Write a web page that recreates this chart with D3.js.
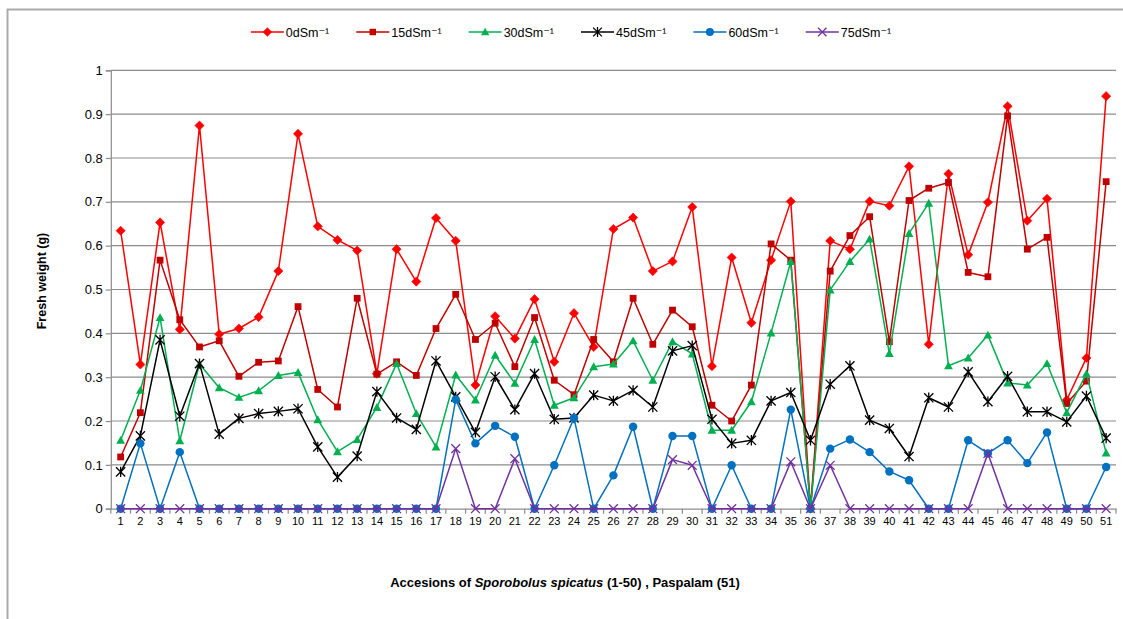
<!DOCTYPE html>
<html><head><meta charset="utf-8">
<script src="https://cdn.jsdelivr.net/npm/d3@7"></script>
<style>
body{margin:0;background:#fff}
svg{display:block}
text{font-family:"Liberation Sans","DejaVu Sans",sans-serif;fill:#000}
</style>
</head><body>
<svg id="chart" width="1123" height="619"></svg>
<script>
const categories = ["1","2","3","4","5","6","7","8","9","10","11","12","13","14","15","16","17","18","19","20","21","22","23","24","25","26","27","28","29","30","31","32","33","34","35","36","37","38","39","40","41","42","43","44","45","46","47","48","49","50","51"];
const seriesNames = ["0dSm⁻¹","15dSm⁻¹","30dSm⁻¹","45dSm⁻¹","60dSm⁻¹","75dSm⁻¹"];
const s0 = [0.634,0.329,0.653,0.409,0.874,0.398,0.411,0.437,0.542,0.855,0.644,0.613,0.589,0.308,0.592,0.518,0.663,0.611,0.282,0.439,0.388,0.478,0.335,0.446,0.369,0.638,0.664,0.542,0.564,0.688,0.325,0.573,0.424,0.567,0.701,0,0.611,0.592,0.701,0.691,0.781,0.375,0.764,0.579,0.699,0.918,0.657,0.707,0.248,0.344,0.941];
const s15 = [0.118,0.219,0.567,0.431,0.369,0.383,0.302,0.334,0.337,0.461,0.272,0.232,0.480,0.307,0.335,0.304,0.411,0.489,0.386,0.423,0.324,0.436,0.293,0.260,0.386,0.335,0.480,0.375,0.453,0.415,0.236,0.200,0.282,0.604,0.567,0,0.542,0.623,0.666,0.381,0.703,0.731,0.744,0.539,0.529,0.896,0.592,0.619,0.240,0.291,0.746];
const s30 = [0.156,0.270,0.436,0.155,0.330,0.276,0.254,0.269,0.304,0.311,0.203,0.13,0.158,0.231,0.331,0.217,0.141,0.305,0.248,0.350,0.286,0.386,0.236,0.253,0.324,0.330,0.383,0.293,0.381,0.353,0.179,0.179,0.244,0.401,0.564,0,0.499,0.564,0.615,0.354,0.628,0.697,0.326,0.344,0.396,0.287,0.282,0.331,0.219,0.308,0.127];
const s45 = [0.084,0.166,0.385,0.211,0.331,0.170,0.206,0.217,0.222,0.228,0.141,0.072,0.120,0.267,0.207,0.181,0.337,0.255,0.174,0.301,0.226,0.308,0.204,0.207,0.259,0.246,0.270,0.232,0.360,0.372,0.204,0.149,0.156,0.246,0.265,0.156,0.284,0.326,0.202,0.183,0.119,0.253,0.232,0.312,0.244,0.302,0.221,0.221,0.198,0.257,0.161];
const s60 = [0,0.149,0,0.129,0,0,0,0,0,0,0,0,0,0,0,0,0,0.249,0.149,0.189,0.164,0,0.099,0.207,0,0.076,0.187,0,0.166,0.166,0,0.099,0,0,0.226,0,0.137,0.158,0.129,0.085,0.065,0,0,0.156,0.126,0.156,0.104,0.174,0,0,0.095];
const s75 = [0,0,0,0,0,0,0,0,0,0,0,0,0,0,0,0,0,0.137,0,0,0.114,0,0,0,0,0,0,0,0.112,0.099,0,0,0,0,0.107,0,0.099,0,0,0,0,0,0,0,0.126,0,0,0,0,0,0];
const yTicks = [0,0.1,0.2,0.3,0.4,0.5,0.6,0.7,0.8,0.9,1];
const yTickLabels = ["0","0.1","0.2","0.3","0.4","0.5","0.6","0.7","0.8","0.9","1"];
const colors = ["#FF0000","#C00000","#00B050","#000000","#0070C0","#7030A0"];
const markers = ["diamond","square","triangle","star","circle","x"];
const yTitle = "Fresh weight (g)";

const seriesData = [s0,s15,s30,s45,s60,s75];
const svg = d3.select("#chart");

svg.append("path").attr("d","M7.5,619 V9.5 H1123").attr("fill","none").attr("stroke","#ababab").attr("stroke-width",2);

const L = 110.8, R = 1116, T = 70.3, B = 508.7;
const x = d3.scaleBand().domain(categories).range([L,R]).padding(0);
const y = d3.scaleLinear().domain([0,1]).range([B,T]);
const cx = c => x(c) + x.bandwidth()/2;

svg.append("g").selectAll("line").data(yTicks.slice(1)).join("line")
  .attr("x1",L).attr("x2",R).attr("y1",d=>y(d)).attr("y2",d=>y(d))
  .attr("stroke","#8c8c8c").attr("stroke-width",1.2);

const yAxis = d3.axisLeft(y).tickValues(yTicks).tickSize(5).tickPadding(3)
  .tickFormat((d,i)=>yTickLabels[i]);
const gy = svg.append("g").attr("transform",`translate(${L},0)`).call(yAxis);
gy.select(".domain").attr("stroke","#8c8c8c").attr("stroke-width",1.2);
gy.selectAll(".tick line").attr("stroke","#8c8c8c").attr("stroke-width",1.2);
gy.selectAll(".tick text").attr("font-size",13).attr("font-family","Liberation Sans").attr("fill","#222");

const xAxis = d3.axisBottom(x).tickSize(0).tickPadding(9);
const gx = svg.append("g").attr("transform",`translate(0,${B})`).call(xAxis);
gx.select(".domain").attr("stroke","#8c8c8c").attr("stroke-width",1.2);
gx.selectAll(".tick text").attr("font-size",11).attr("font-family","Liberation Sans").attr("fill","#222");
const bounds = categories.map(c=>x(c)).concat([R]);
svg.append("g").selectAll("line").data(bounds).join("line")
  .attr("x1",d=>d).attr("x2",d=>d).attr("y1",B).attr("y2",B+5)
  .attr("stroke","#8c8c8c").attr("stroke-width",1.2);

function drawMarker(g, type, color, px, py, s){
  s = s||1;
  if(type==="diamond"){
    const r=4.6*s;
    g.append("path").attr("d",`M${px},${py-r}L${px+r},${py}L${px},${py+r}L${px-r},${py}Z`).attr("fill",color).attr("stroke",color).attr("stroke-width",0.6);
  } else if(type==="square"){
    const r=3.4*s;
    g.append("rect").attr("x",px-r).attr("y",py-r).attr("width",2*r).attr("height",2*r).attr("fill",color);
  } else if(type==="triangle"){
    const r=4.4*s;
    g.append("path").attr("d",`M${px},${py-r}L${px+r},${py+r*0.8}L${px-r},${py+r*0.8}Z`).attr("fill",color);
  } else if(type==="circle"){
    g.append("circle").attr("cx",px).attr("cy",py).attr("r",4.2*s).attr("fill",color);
  } else if(type==="star"){
    const r=4.6*s;
    g.append("path").attr("d",`M${px-r},${py-r}L${px+r},${py+r}M${px-r},${py+r}L${px+r},${py-r}M${px},${py-r-0.6}L${px},${py+r+0.6}`)
      .attr("stroke",color).attr("stroke-width",1.3).attr("fill","none");
  } else if(type==="x"){
    const r=4.4*s;
    g.append("path").attr("d",`M${px-r},${py-r}L${px+r},${py+r}M${px-r},${py+r}L${px+r},${py-r}`)
      .attr("stroke",color).attr("stroke-width",1.3).attr("fill","none");
  }
}

const line = d3.line().x((d,i)=>cx(categories[i])).y(d=>y(d));
seriesData.forEach((vals,si)=>{
  const g = svg.append("g");
  g.append("path").datum(vals).attr("d",line).attr("fill","none")
    .attr("stroke",colors[si]).attr("stroke-width",1.5).attr("stroke-linejoin","round");
  vals.forEach((v,i)=>drawMarker(g, markers[si], colors[si], cx(categories[i]), y(v)));
});

const lg = svg.append("g");
const legendY = 32;
let cursor = 0;
seriesNames.forEach((name,i)=>{
  const it = lg.append("g");
  it.append("line").attr("x1",cursor).attr("x2",cursor+33).attr("y1",legendY).attr("y2",legendY)
    .attr("stroke",colors[i]).attr("stroke-width",1.5);
  drawMarker(it, markers[i], colors[i], cursor+16.5, legendY, 0.95);
  const t = it.append("text").attr("x",cursor+35).attr("y",legendY+4.5).attr("font-size",12.5).text(name);
  const w = t.node().getComputedTextLength();
  cursor += 35 + w + 27;
});
const totalW = cursor - 27;
lg.attr("transform",`translate(${571 - totalW/2},0)`);

svg.append("text").attr("transform","translate(46,281) rotate(-90)")
  .attr("text-anchor","middle").attr("font-size",12.5).attr("font-weight","bold").text(yTitle);

const xt = svg.append("text").attr("x",565).attr("y",587).attr("text-anchor","middle")
  .attr("font-size",13).attr("font-weight","bold");
xt.append("tspan").text("Accesions of ");
xt.append("tspan").attr("font-style","italic").text("Sporobolus spicatus");
xt.append("tspan").text(" (1-50) , Paspalam (51)");
</script>
</body></html>
